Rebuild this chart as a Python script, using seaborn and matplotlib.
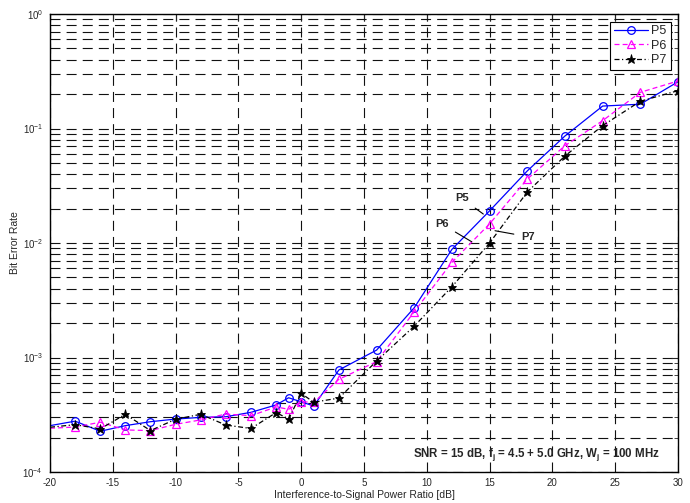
import numpy as np
import pandas as pd
import matplotlib
matplotlib.use("Agg")
import matplotlib.pyplot as plt
import matplotlib.ticker as mticker
import seaborn as sns

# ---------------- data ----------------
isr_db = [-20, -18, -16, -14, -12, -10, -8, -6, -4, -2, -1, 0, 1, 3, 6, 9, 12, 15, 18, 21, 24, 27, 30]
ber_p5 = [2.54e-4, 2.78e-4, 2.27e-4, 2.54e-4, 2.75e-4, 2.90e-4, 3.0e-4, 3.04e-4, 3.32e-4, 3.85e-4,
          4.45e-4, 4.1e-4, 3.77e-4, 7.78e-4, 1.16e-3, 2.72e-3, 8.8e-3, 1.91e-2, 4.26e-2, 8.6e-2,
          0.157, 0.163, 0.256]
ber_p6 = [2.41e-4, 2.47e-4, 2.72e-4, 2.33e-4, 2.3e-4, 2.61e-4, 2.85e-4, 3.21e-4, 3.1e-4, 3.7e-4,
          3.53e-4, 4.11e-4, 4.06e-4, 6.45e-4, 9.2e-4, 2.51e-3, 6.78e-3, 1.47e-2, 3.62e-2, 7.08e-2,
          0.117, 0.207, 0.26]
ber_p7 = [2.46e-4, 2.59e-4, 2.38e-4, 3.19e-4, 2.3e-4, 2.89e-4, 3.19e-4, 2.57e-4, 2.4e-4, 3.3e-4,
          2.91e-4, 4.85e-4, 4.07e-4, 4.42e-4, 9.3e-4, 1.88e-3, 4.15e-3, 1.0e-2, 2.79e-2, 5.75e-2,
          0.106, 0.173, 0.214]
series_names = ["P5", "P6", "P7"]
x_ticks = [-20, -15, -10, -5, 0, 5, 10, 15, 20, 25, 30]

# ---------------- style ----------------
sns.set_style("white")
plt.rcParams["font.family"] = ["Liberation Sans", "DejaVu Sans"]
plt.rcParams["mathtext.fontset"] = "custom"
plt.rcParams["mathtext.rm"] = "Liberation Sans"
plt.rcParams["mathtext.bf"] = "Liberation Sans:bold"

fig = plt.figure(figsize=(6.9, 5.03), dpi=100)
ax = fig.add_axes([50 / 690, 31 / 503, 628 / 690, 458 / 503])

df = pd.DataFrame({"isr": isr_db, "P5": ber_p5, "P6": ber_p6, "P7": ber_p7})

styles = {
    "P5": dict(color="#0000ff", linestyle="-", marker="o", markersize=5.5,
               markerfacecolor="none", markeredgecolor="#0000ff", markeredgewidth=0.9),
    "P6": dict(color="#ff00ff", linestyle=(0, (4, 2.5)), marker="^", markersize=6,
               markerfacecolor="none", markeredgecolor="#ff00ff", markeredgewidth=0.9),
    "P7": dict(color="black", linestyle=(0, (4, 2, 1, 2)), marker="*", markersize=6.5,
               markerfacecolor="black", markeredgecolor="black", markeredgewidth=0.6),
}

for name in series_names:
    sns.lineplot(data=df, x="isr", y=name, ax=ax, label=name, linewidth=0.9,
                 markevery=slice(1, None), sort=False, **styles[name])

ax.set_yscale("log")
ax.set_xlim(-20, 30)
ax.set_ylim(1e-4, 1)
ax.set_xticks(x_ticks)
ax.xaxis.set_major_formatter(mticker.FuncFormatter(lambda v, p: f"{int(v)}"))
ax.yaxis.set_major_locator(mticker.LogLocator(base=10, numticks=10))
ax.yaxis.set_minor_locator(mticker.LogLocator(base=10, subs=np.arange(2, 10), numticks=20))
ax.yaxis.set_minor_formatter(mticker.NullFormatter())

grid_ls = (0, (9, 5.5))
ax.grid(True, which="major", axis="both", color="#111111", linestyle=grid_ls, linewidth=0.8)
ax.grid(True, which="minor", axis="y", color="#111111", linestyle=grid_ls, linewidth=0.8)

ax.tick_params(which="both", direction="in", top=True, right=True, labelsize=7)
ax.tick_params(axis="x", pad=4.5)
ax.tick_params(axis="y", pad=5)
ax.tick_params(which="major", length=5, width=0.8)
ax.tick_params(which="minor", length=3, width=0.6)
for sp in ax.spines.values():
    sp.set_color("black")
    sp.set_linewidth(1.0)

ax.set_xlabel("Interference-to-Signal Power Ratio [dB]", fontsize=7.5, labelpad=1)
ax.set_ylabel("Bit Error Rate", fontsize=7.5, labelpad=2)

leg = ax.legend(loc="upper right", fontsize=9, frameon=True, fancybox=False,
                edgecolor="black", framealpha=1, borderpad=0.3, labelspacing=0.2,
                handlelength=2.7, handletextpad=0.3, borderaxespad=0.6)
leg.get_frame().set_linewidth(0.8)

arrow = dict(arrowstyle="-", color="black", lw=0.8, shrinkA=3, shrinkB=0)
ax.annotate("P5", xy=(14.5, 0.0179), xytext=(12.78, 0.02455), fontsize=8, fontweight="bold",
            ha="center", va="center", arrowprops=arrow)
ax.annotate("P6", xy=(13.57, 0.01026), xytext=(11.19, 0.01466), fontsize=8, fontweight="bold",
            ha="center", va="center", arrowprops=arrow)
ax.annotate("P7", xy=(15.43, 0.0128), xytext=(18.06, 0.01135), fontsize=8, fontweight="bold",
            ha="center", va="center", arrowprops=arrow)

ax.text(18.69, 1.41e-4,
        r"SNR = 15 dB, f$_\mathbf{j}$ = 4.5 + 5.0 GHz, W$_\mathbf{j}$ = 100 MHz",
        fontsize=8.3, fontweight="bold", ha="center", va="center")

fig.savefig("out.png", dpi=100)
